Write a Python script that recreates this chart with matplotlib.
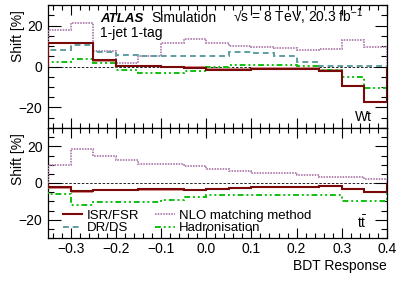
import matplotlib
matplotlib.use("Agg")
import matplotlib.pyplot as plt
import numpy as np
from matplotlib.ticker import MultipleLocator
from matplotlib.lines import Line2D

plt.rcParams['font.family'] = ['Liberation Sans', 'DejaVu Sans']
plt.rcParams['mathtext.fontset'] = 'custom'
plt.rcParams['mathtext.rm'] = 'Liberation Sans'
plt.rcParams['mathtext.it'] = 'Liberation Sans:italic'
plt.rcParams['mathtext.bf'] = 'Liberation Sans:bold'

# Bin edges of the BDT response
edges = [-0.35, -0.3, -0.25, -0.2, -0.15, -0.1, -0.05, 0.0, 0.05, 0.1, 0.15, 0.2, 0.25, 0.3, 0.35, 0.4]

# Wt (top panel) shifts in %
wt_isrfsr = [11.4, 11.4, 3.0, 0.3, 0.2, -0.3, -0.5, -1.5, -1.5, -1.0, -1.0, -1.0, -2.0, -9.4, -17.4]
wt_drds = [8.0, 10.5, 7.2, 5.6, 5.1, 5.1, 5.1, 5.1, 7.0, 6.8, 5.1, 2.1, 0.2, 0.2, 0.2]
wt_nlo = [17.9, 21.2, 7.6, 1.5, 5.1, 11.7, 13.3, 11.7, 10.0, 9.5, 9.2, 8.0, 8.7, 13.0, 9.7]
wt_had = [2.3, 3.5, 1.5, -1.5, -3.1, -3.1, -2.0, -0.3, 0.7, 0.7, 0.5, 0.3, -1.5, -5.3, -10.5]

# ttbar (bottom panel) shifts in %
tt_isrfsr = [-2.4, -4.6, -4.0, -3.7, -3.5, -3.5, -3.8, -3.2, -2.7, -2.2, -2.2, -2.2, -1.8, -3.3, -4.9]
tt_nlo = [9.6, 18.6, 14.5, 12.4, 10.5, 10.2, 9.1, 7.5, 6.5, 5.7, 5.3, 4.5, 3.4, 3.1, 2.2]
tt_had = [-6.0, -12.0, -10.4, -10.4, -10.4, -9.3, -7.9, -6.8, -6.8, -6.8, -6.8, -6.8, -6.8, -9.7, -9.7]

labels = ["ISR/FSR", "DR/DS", "NLO matching method", "Hadronisation"]

c_isr = '#7a0a0a'
c_isr_band = '#d89090'
c_drds = '#5f9ea0'
c_nlo = '#b487b4'
c_had = '#10c010'

ls_drds = (0, (3, 2))
ls_nlo = (0, (0.8, 0.6))
ls_had = (0, (3, 1.5, 1, 1.5, 1, 1.5))

FS = 9.5
TFS = 10

fig = plt.figure(figsize=(3.99, 2.86), dpi=100)
W, H = 399.0, 286.0
L, R = 48, 387
ax1 = fig.add_axes([L / W, 1 - 128 / H, (R - L) / W, 123 / H])
ax2 = fig.add_axes([L / W, 1 - 238 / H, (R - L) / W, 110 / H])

def style(ax, show_x):
    ax.set_xlim(-0.35, 0.4)
    ax.set_ylim(-30, 30)
    ax.xaxis.set_major_locator(MultipleLocator(0.1))
    ax.xaxis.set_minor_locator(MultipleLocator(0.02))
    ax.yaxis.set_major_locator(MultipleLocator(20))
    ax.yaxis.set_minor_locator(MultipleLocator(5))
    ax.tick_params(which='both', direction='in', top=True, right=True, width=0.8, labelsize=TFS)
    ax.tick_params(which='major', axis='x', length=7)
    ax.tick_params(which='minor', axis='x', length=3.5)
    ax.tick_params(which='major', axis='y', length=9, pad=4)
    ax.tick_params(which='minor', axis='y', length=4.5)
    ax.tick_params(axis='x', pad=3)
    if not show_x:
        ax.tick_params(axis='x', labelbottom=False)
    for s in ax.spines.values():
        s.set_linewidth(0.9)
    ax.axhline(0, color='black', lw=0.6, ls=(0, (3, 2)), zorder=1)
    ax.set_ylabel("Shift [%]", fontsize=TFS, loc='top')

style(ax1, False)
style(ax2, True)
ax1.yaxis.set_label_coords(-0.068, 0.96)
ax2.yaxis.set_label_coords(-0.068, 0.955)

# Top panel: Wt
ax1.stairs(np.array(wt_isrfsr) + 0.6, edges, baseline=np.array(wt_isrfsr) - 0.6, fill=True,
           color=c_isr_band, lw=0, zorder=2)
ax1.stairs(wt_nlo, edges, color=c_nlo, lw=1.4, ls=ls_nlo, zorder=3)
ax1.stairs(wt_drds, edges, color=c_drds, lw=1.4, ls=ls_drds, zorder=3)
ax1.stairs(wt_had, edges, color=c_had, lw=1.4, ls=ls_had, zorder=3)
ax1.stairs(wt_isrfsr, edges, color=c_isr, lw=1.5, zorder=4)

# Bottom panel: ttbar
ax2.stairs(np.array(tt_isrfsr) + 0.6, edges, baseline=np.array(tt_isrfsr) - 0.6, fill=True,
           color=c_isr_band, lw=0, zorder=2)
ax2.stairs(tt_nlo, edges, color=c_nlo, lw=1.4, ls=ls_nlo, zorder=3)
ax2.stairs(tt_had, edges, color=c_had, lw=1.4, ls=ls_had, zorder=3)
ax2.stairs(tt_isrfsr, edges, color=c_isr, lw=1.5, zorder=4)

ax2.set_xlabel("BDT Response", fontsize=TFS, loc='right')
ax2.xaxis.set_label_coords(1.0, -0.19)

# Texts
ax1.text(0.153, 0.862, "ATLAS", transform=ax1.transAxes, fontsize=FS,
         fontweight='bold', fontstyle='italic', va='baseline')
ax1.text(0.306, 0.862, "Simulation", transform=ax1.transAxes, fontsize=TFS, va='baseline')
ax1.text(0.545, 0.862, "\u221as = 8 TeV, 20.3 fb$^{-1}$", transform=ax1.transAxes,
         fontsize=TFS, va='baseline')
ax1.text(0.153, 0.74, "1-jet 1-tag", transform=ax1.transAxes, fontsize=TFS, va='baseline')
ax1.text(0.956, 0.057, "Wt", transform=ax1.transAxes, fontsize=TFS, va='baseline', ha='right')
ax2.text(0.944, 0.09, r"$\mathrm{t}\bar{\mathrm{t}}$", transform=ax2.transAxes, fontsize=TFS,
         va='baseline', ha='right')

handles = [
    Line2D([], [], color=c_isr, lw=1.5),
    Line2D([], [], color=c_drds, lw=1.4, ls=ls_drds),
    Line2D([], [], color=c_nlo, lw=1.4, ls=ls_nlo),
    Line2D([], [], color=c_had, lw=1.4, ls=ls_had),
]
ax2.legend(handles, labels, ncol=2, loc='lower left', bbox_to_anchor=(0.035, 0.01),
           frameon=False, fontsize=FS, handlelength=1.5, handletextpad=0.32,
           columnspacing=1.2, labelspacing=0.0, borderpad=0.2, borderaxespad=0.0)

fig.savefig("out.png", dpi=100)
